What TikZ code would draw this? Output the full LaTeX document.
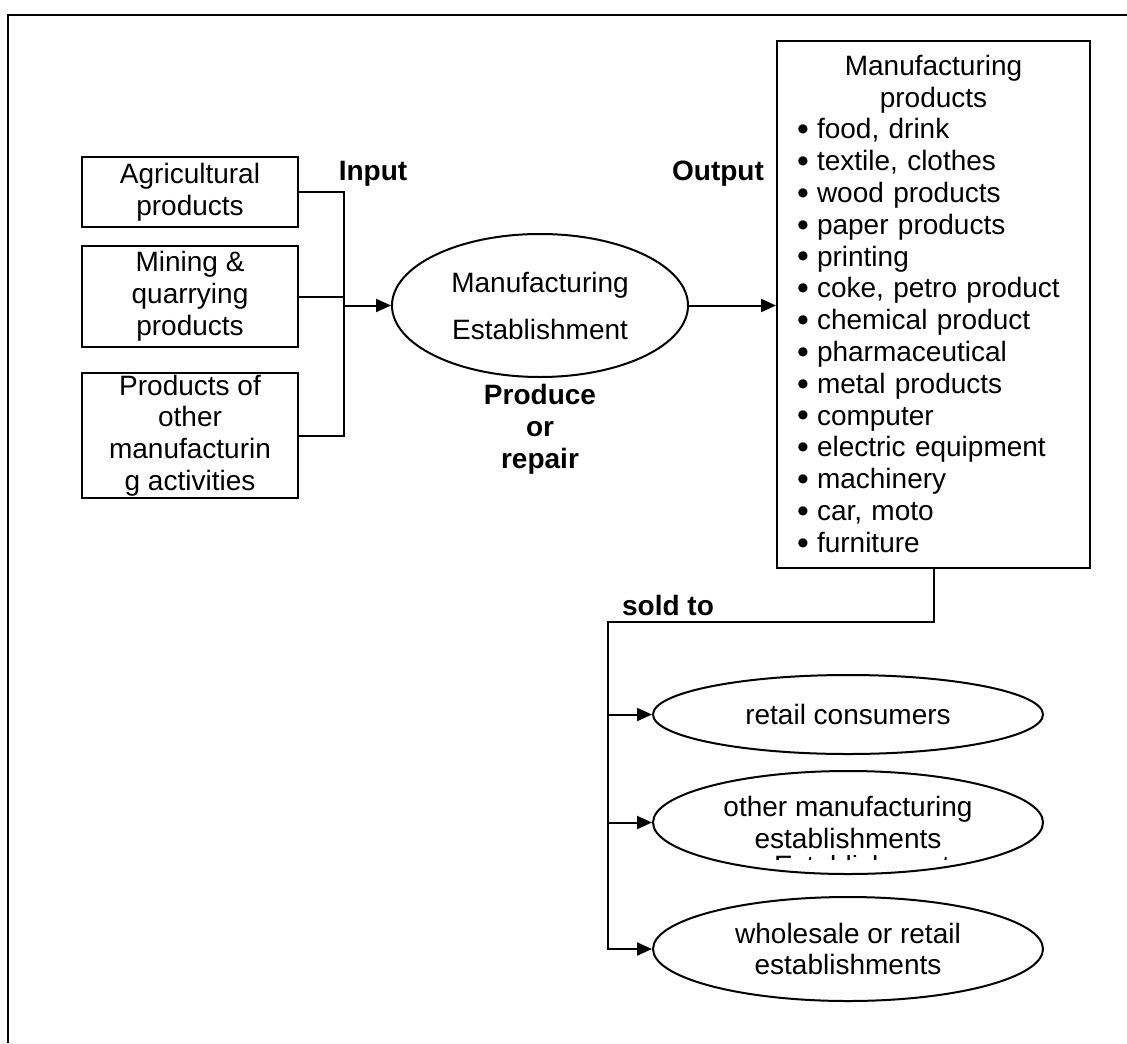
\documentclass[tikz,border=0pt]{standalone}
\usepackage{fontspec}
\setmainfont{Liberation Sans}
\usetikzlibrary{arrows.meta, shapes.geometric}

\newcommand\blt{\makebox[10pt][l]{\raisebox{-0.9pt}{\scalebox{1.2}{\textbullet}}}}
\newcommand\hdr[1]{\makebox[136.5pt]{#1}}

\begin{document}
\begin{tikzpicture}[
  x=0.5pt, y=-0.5pt,
  every node/.style={font=\fontsize{14}{15.9}\selectfont},
  box/.style={rectangle, draw, line width=1pt, inner sep=0pt, align=center},
  oval/.style={ellipse, draw, line width=1pt, inner sep=0pt, align=center, minimum width=195pt},
  tag/.style={font=\fontsize{14}{15.9}\selectfont\bfseries, inner sep=0pt, align=center},
  >={Triangle[length=7.5pt, width=6.5pt]},
  line width=1pt
]
\useasboundingbox (0,0) rectangle (1127,1043);
\draw[line width=1.2pt] (8,1043) -- (8,15) -- (1127,15);

% inputs
\node[box, minimum width=108pt, minimum height=35pt] (agri) at (190,192) {Agricultural\\products};
\node[box, minimum width=108pt, minimum height=50.5pt] (mining) at (190,296.5) {Mining \&\\quarrying\\products};
\node[box, minimum width=108pt, minimum height=62.5pt] (othact) at (190,435.5) {Products of\\other\\manufacturin\\g activities};

\node[oval, minimum width=148pt, minimum height=71.5pt, font=\fontsize{14}{23.5}\selectfont] (mfg) at (540,305.5) {Manufacturing\\Establishment};

\node[box, minimum width=156.5pt, minimum height=263.5pt, text width=136.5pt, align=left] (prod) at (933.5,304.5)
  {\hdr{Manufacturing}\\\hdr{products}\\
   \blt food, drink\\\blt textile, clothes\\\blt wood products\\\blt paper products\\
   \blt printing\\\blt coke, petro product\\\blt chemical product\\\blt pharmaceutical\\
   \blt metal products\\\blt computer\\\blt electric equipment\\\blt machinery\\
   \blt car, moto\\\blt furniture};

% buyers
\node[oval, minimum height=39.5pt] (retail) at (848,714.5) {retail consumers};
\node[oval, minimum height=51.5pt] (othmfg) at (848,822.5) {other manufacturing\\establishments};
\node[oval, minimum height=52pt] (whole) at (848,949) {wholesale or retail\\establishments};

\begin{scope}
  \clip (760,855) rectangle (960,859.5);
  \node[anchor=base west, inner sep=0pt] (ghost) at (773,875) {Establishments};
\end{scope}

% labels
\node[tag] (input) at (373,174) {Input};
\node[tag] (output) at (718,174) {Output};
\node[tag] (prodrep) at (540,429) {Produce\\or\\repair};
\node[tag] (sold) at (668,605) {sold to};

% connectors
\coordinate (join) at (344,305.5);
\coordinate (split) at (608,622);
\draw (agri.east) -| (join);
\draw (othact.east) -| (join);
\draw (mining.east) -- (mining.east -| join);
\draw[->] (join) -- (mfg.west);
\draw[->] (mfg.east) -- (mfg.east -| prod.west);
\draw[->] (prod.south) |- (split) |- (whole.west);
\draw[->] (split |- retail.west) -- (retail.west);
\draw[->] (split |- othmfg.west) -- (othmfg.west);
\end{tikzpicture}
\end{document}
